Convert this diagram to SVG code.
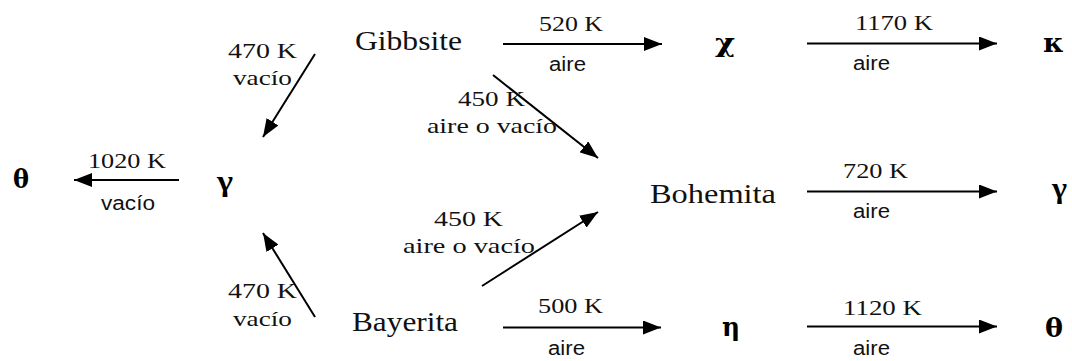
<svg xmlns="http://www.w3.org/2000/svg" width="1072" height="361" viewBox="0 0 1072 361">
  <defs>
    <marker id="head" markerUnits="userSpaceOnUse" markerWidth="18" markerHeight="14" refX="18" refY="7" orient="auto">
      <path d="M0,0 L18,7 L0,14 Z" fill="#000"/>
    </marker>
    <style>
      .phase { font-family: "Liberation Serif", "Times New Roman", serif; font-size: 27px; fill: #111; }
      .greek { font-family: "DejaVu Serif", "Liberation Serif", serif; font-size: 26px; font-weight: bold; fill: #000; }
      .greek.upright { font-family: "Liberation Serif", "Times New Roman", serif; font-size: 30px; }
      .temp { font-family: "Liberation Serif", "Times New Roman", serif; font-size: 21px; fill: #111; }
      .atm { font-family: "Liberation Sans", Arial, sans-serif; font-size: 20px; fill: #111; }
      .edge { stroke: #000; stroke-width: 2; fill: none; marker-end: url(#head); }
    </style>
  </defs>
  <rect width="1072" height="361" fill="#fff"/>

  <!-- phases -->
  <g id="theta-left"><text class="greek" x="13" y="188" textLength="16" lengthAdjust="spacingAndGlyphs">θ</text></g>
  <g id="gamma-left"><text class="greek upright" x="217" y="191" textLength="16" lengthAdjust="spacingAndGlyphs">γ</text></g>
  <g id="gibbsite"><text class="phase" x="355" y="50" textLength="107" lengthAdjust="spacingAndGlyphs">Gibbsite</text></g>
  <g id="bayerita"><text class="phase" x="352" y="331" textLength="106" lengthAdjust="spacingAndGlyphs">Bayerita</text></g>
  <g id="bohemita"><text class="phase" x="650" y="203" textLength="126" lengthAdjust="spacingAndGlyphs">Bohemita</text></g>
  <g id="chi"><text class="greek" x="715" y="52" textLength="20" lengthAdjust="spacingAndGlyphs">χ</text></g>
  <g id="kappa"><text class="greek" x="1043" y="52" textLength="21" lengthAdjust="spacingAndGlyphs">κ</text></g>
  <g id="gamma-right"><text class="greek upright" x="1052" y="198" textLength="15" lengthAdjust="spacingAndGlyphs">γ</text></g>
  <g id="eta"><text class="greek" x="722" y="336" textLength="18" lengthAdjust="spacingAndGlyphs">η</text></g>
  <g id="theta-right"><text class="greek" x="1045" y="337" textLength="18" lengthAdjust="spacingAndGlyphs">θ</text></g>

  <!-- transformations -->
  <g id="connectors">
    <g id="gamma-theta">
      <line class="edge" x1="179" y1="180" x2="74" y2="180"/>
      <text class="temp" x="88" y="168" textLength="78" lengthAdjust="spacingAndGlyphs">1020 K</text>
      <text class="atm" x="101" y="210" textLength="54" lengthAdjust="spacingAndGlyphs">vacío</text>
    </g>
    <g id="gibbsite-gamma">
      <line class="edge" x1="315" y1="54" x2="263" y2="137"/>
      <text class="temp" x="228" y="58" textLength="69" lengthAdjust="spacingAndGlyphs">470 K</text>
      <text class="temp" x="233" y="85" textLength="59" lengthAdjust="spacingAndGlyphs">vacío</text>
    </g>
    <g id="bayerita-gamma">
      <line class="edge" x1="315" y1="317" x2="263" y2="233"/>
      <text class="temp" x="228" y="298" textLength="69" lengthAdjust="spacingAndGlyphs">470 K</text>
      <text class="temp" x="233" y="326" textLength="59" lengthAdjust="spacingAndGlyphs">vacío</text>
    </g>
    <g id="gibbsite-chi">
      <line class="edge" x1="503" y1="44" x2="662" y2="44"/>
      <text class="temp" x="539" y="31" textLength="64" lengthAdjust="spacingAndGlyphs">520 K</text>
      <text class="atm" x="549" y="71" textLength="37" lengthAdjust="spacingAndGlyphs">aire</text>
    </g>
    <g id="chi-kappa">
      <line class="edge" x1="807" y1="43.5" x2="997" y2="43.5"/>
      <text class="temp" x="855" y="30" textLength="78" lengthAdjust="spacingAndGlyphs">1170 K</text>
      <text class="atm" x="853" y="70" textLength="37" lengthAdjust="spacingAndGlyphs">aire</text>
    </g>
    <g id="gibbsite-bohemita">
      <line class="edge" x1="493" y1="75" x2="598" y2="158"/>
      <text class="temp" x="458" y="106" textLength="67" lengthAdjust="spacingAndGlyphs">450 K</text>
      <text class="temp" x="427" y="133" textLength="130" lengthAdjust="spacingAndGlyphs">aire o vacío</text>
    </g>
    <g id="bayerita-bohemita">
      <line class="edge" x1="482" y1="286" x2="598" y2="212"/>
      <text class="temp" x="434" y="226" textLength="69" lengthAdjust="spacingAndGlyphs">450 K</text>
      <text class="temp" x="403" y="253" textLength="132" lengthAdjust="spacingAndGlyphs">aire o vacío</text>
    </g>
    <g id="bohemita-gamma">
      <line class="edge" x1="807" y1="191.5" x2="997" y2="191.5"/>
      <text class="temp" x="843" y="178" textLength="65" lengthAdjust="spacingAndGlyphs">720 K</text>
      <text class="atm" x="853" y="218" textLength="37" lengthAdjust="spacingAndGlyphs">aire</text>
    </g>
    <g id="bayerita-eta">
      <line class="edge" x1="503" y1="327.5" x2="661" y2="327.5"/>
      <text class="temp" x="538" y="313" textLength="65" lengthAdjust="spacingAndGlyphs">500 K</text>
      <text class="atm" x="548" y="355" textLength="37" lengthAdjust="spacingAndGlyphs">aire</text>
    </g>
    <g id="eta-theta">
      <line class="edge" x1="807" y1="326.5" x2="997" y2="326.5"/>
      <text class="temp" x="843" y="315" textLength="79" lengthAdjust="spacingAndGlyphs">1120 K</text>
      <text class="atm" x="853" y="355" textLength="37" lengthAdjust="spacingAndGlyphs">aire</text>
    </g>
  </g>
</svg>
